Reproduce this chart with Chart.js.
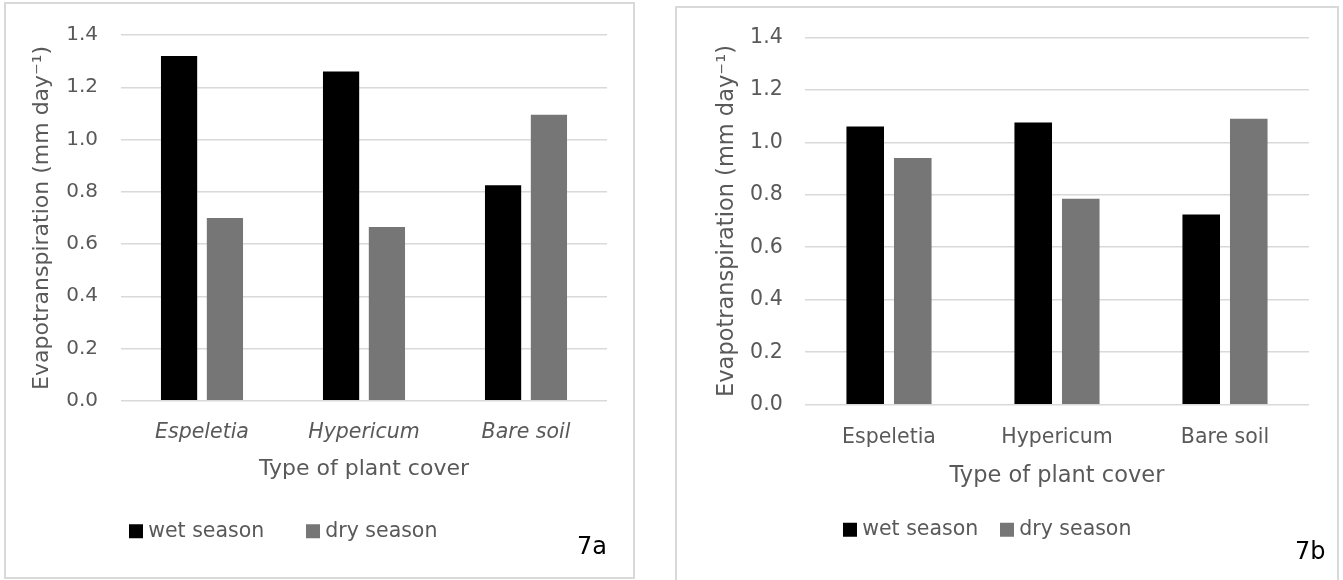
<!DOCTYPE html>
<html>
<head>
<meta charset="utf-8">
<script src="https://cdn.jsdelivr.net/npm/chart.js@4.4.1/dist/chart.umd.min.js"></script>
<style>
    body { margin: 0; width: 1343px; height: 580px; overflow: hidden; background: #fff; position: relative; font-family: "DejaVu Sans"; }
    .box { position: absolute; border: 2px solid #d9d9d9; box-sizing: border-box; }
    canvas { position: absolute; top: 0; }
    .tag { position: absolute; font-size: 24px; line-height: 24px; color: #000; }
</style>
</head>
<body>
<div class="box" style="left:4px;top:2px;width:631px;height:577px"></div>
<div class="box" style="left:675px;top:6px;width:664px;height:600px"></div>
<canvas id="chartA" width="660" height="640" style="left:0"></canvas>
<canvas id="chartB" width="673" height="640" style="left:670px"></canvas>
<div class="tag" style="left:577px;top:534px">7a</div>
<div class="tag" style="left:1295px;top:539px">7b</div>

<script>
// data
const plantCover = ["Espeletia", "Hypericum", "Bare soil"];
const seasons = ["wet season", "dry season"];
const wetA = [1.32, 1.26, 0.825];
const dryA = [0.70, 0.665, 1.095];
const wetB = [1.06, 1.075, 0.725];
const dryB = [0.94, 0.785, 1.09];
const yTicks = [0, 0.2, 0.4, 0.6, 0.8, 1.0, 1.2, 1.4];

const yTitle = "Evapotranspiration (mm day\u207B\u00B9)";
const xTitle = "Type of plant cover";
const seasonColors = ["#000000", "#767676"];
const textColor = "#595959";
const gridColor = "#d9d9d9";

// moves the legend sideways, Excel does not center it on the chart
const legendShift = {
    id: 'legendShift',
    afterLayout(chart, args, opts) {
        chart.legend.left += opts.dx;
        chart.legend.right += opts.dx;
    }
};

function makeChart(id, wet, dry, o) {
    new Chart(document.getElementById(id), {
        type: "bar",
        data: {
            labels: plantCover,
            datasets: [
                { label: seasons[0], data: wet, backgroundColor: seasonColors[0], borderWidth: 0 },
                { label: seasons[1], data: dry, backgroundColor: seasonColors[1], borderWidth: 0 }
            ]
        },
        plugins: [legendShift],
        options: {
            responsive: false,
            animation: false,
            events: [],
            categoryPercentage: 0.566,
            barPercentage: 0.79,
            layout: { padding: o.pad },
            scales: {
                x: {
                    grid: { display: false, drawTicks: false },
                    border: { display: false },
                    ticks: {
                        color: textColor,
                        padding: o.xTickPad,
                        font: { family: "DejaVu Sans", size: 20.5, style: o.italic ? "italic" : "normal" }
                    },
                    title: {
                        display: true,
                        text: xTitle,
                        color: textColor,
                        padding: o.xTitlePad,
                        font: { family: "DejaVu Sans", size: o.titleSize }
                    }
                },
                y: {
                    min: 0,
                    max: 1.4,
                    afterBuildTicks: (scale) => {
                        scale.ticks = yTicks.map(v => ({ value: v }));
                    },
                    afterFit: (scale) => {
                        scale.width = o.yWidth;
                    },
                    grid: { color: gridColor, lineWidth: 1.5, drawTicks: false },
                    border: { display: false },
                    ticks: {
                        color: textColor,
                        padding: o.yTickPad,
                        font: { family: "DejaVu Sans", size: o.yTickSize },
                        callback: (v) => Number(v).toFixed(1)
                    },
                    title: {
                        display: true,
                        text: yTitle,
                        color: textColor,
                        padding: { top: o.yTitlePad, bottom: 0 },
                        font: { family: "DejaVu Sans", size: o.titleSize }
                    }
                }
            },
            plugins: {
                legendShift: { dx: o.dx },
                tooltip: { enabled: false },
                legend: {
                    position: "bottom",
                    labels: {
                        color: textColor,
                        font: { family: "DejaVu Sans", size: 20.5 },
                        usePointStyle: true,
                        pointStyle: "rect",
                        boxWidth: 4,
                        boxHeight: 14,
                        padding: o.legendPad
                    }
                }
            }
        }
    });
}

makeChart("chartA", wetA, dryA, {
    pad: { left: 10, top: 30.5, right: 53, bottom: 88.5 },
    yWidth: 111, yTickSize: 20, yTickPad: 23, yTitlePad: 18.8,
    titleSize: 22, italic: true,
    xTickPad: 19.7, xTitlePad: { top: -8.3, bottom: -8.65 },
    legendPad: 46.75, dx: -22.8
});

makeChart("chartB", wetB, dryB, {
    pad: { left: 20, top: 37.3, right: 34, bottom: 90 },
    yWidth: 115, yTickSize: 20.5, yTickPad: 22.3, yTitlePad: 23.2,
    titleSize: 22.5, italic: false,
    xTickPad: 20.5, xTitlePad: { top: -7.8, bottom: 3.25 },
    legendPad: 26.75, dx: -9.8
});
</script>
</body>
</html>
